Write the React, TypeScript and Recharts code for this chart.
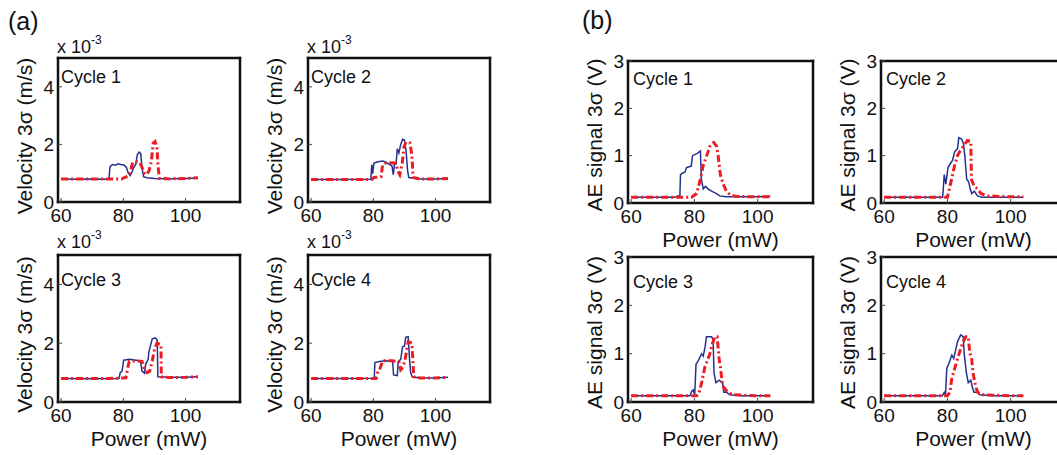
import React from "react"
import { LineChart, Line, XAxis, YAxis } from "recharts"

type Pt = [number, number]

const POWER_TICKS = [60, 80, 100]
const POWER_DOMAIN: [number, number] = [59, 117.5]
const VELOCITY_TICKS = [0, 2, 4]
const AE_TICKS = [0, 1, 2, 3]

// velocity 3σ (x 10^-3 m/s) vs power (mW): blue solid / red dash-dot
const velCycle1Blue: Pt[] = [[60, 0.8], [65, 0.79], [70, 0.8], [75, 0.79], [75.4, 0.8], [75.7, 1.22], [76.5, 1.3], [77.5, 1.28], [78.3, 1.33], [79.2, 1.3], [80.3, 1.28], [81, 1.2], [81.6, 1.0], [82.2, 0.92], [82.8, 1.05], [83.3, 1.2], [84, 1.3], [84.5, 1.65], [85.1, 1.73], [85.6, 1.68], [86, 1.2], [86.5, 0.88], [87.5, 0.84], [90, 0.82], [95, 0.81], [100, 0.82], [104, 0.83]]
const velCycle1Red: Pt[] = [[60, 0.8], [70, 0.8], [79.5, 0.8], [80.3, 0.85], [81.5, 0.9], [82.2, 1.0], [82.8, 1.3], [83.2, 1.38], [84.5, 1.4], [85.2, 1.38], [86, 1.2], [86.8, 1.0], [87.6, 0.95], [88.3, 1.1], [89, 1.4], [89.6, 2.05], [90.2, 2.1], [90.8, 1.9], [91.2, 1.2], [91.6, 0.82], [95, 0.8], [100, 0.82], [104, 0.84]]
const velCycle2Blue: Pt[] = [[60, 0.78], [70, 0.78], [79.2, 0.79], [79.5, 1.3], [79.8, 0.98], [80.2, 1.35], [81.5, 1.4], [83, 1.42], [84, 1.38], [85.3, 1.3], [86, 1.25], [86.4, 0.95], [86.8, 1.3], [87.3, 1.32], [87.7, 1.85], [88.2, 1.7], [88.8, 2.0], [89.4, 2.18], [90, 2.15], [90.5, 1.8], [91, 1.1], [91.4, 0.85], [95, 0.8], [100, 0.8], [104, 0.82]]
const velCycle2Red: Pt[] = [[60, 0.78], [79.5, 0.78], [80.2, 0.85], [82.5, 0.88], [83, 1.3], [84, 1.35], [86, 1.36], [87.2, 1.35], [87.8, 1.1], [88.5, 0.95], [89.3, 1.35], [89.8, 1.9], [90.5, 2.08], [91.8, 2.05], [92.4, 1.6], [92.8, 0.85], [95, 0.8], [100, 0.8], [104, 0.82]]
const velCycle3Blue: Pt[] = [[60, 0.8], [70, 0.79], [78.6, 0.8], [79, 1.0], [79.6, 1.05], [80.1, 1.42], [82, 1.45], [84, 1.42], [85.5, 1.4], [86, 1.05], [86.8, 0.98], [87.2, 1.3], [88, 1.45], [88.2, 1.7], [88.8, 1.95], [89.3, 2.15], [90.3, 2.18], [90.9, 2.1], [91.1, 0.86], [95, 0.84], [100, 0.84], [104, 0.86]]
const velCycle3Red: Pt[] = [[60, 0.8], [75, 0.8], [80.8, 0.82], [81.5, 1.2], [81.9, 1.38], [84, 1.4], [86, 1.38], [86.8, 1.1], [87.6, 1.0], [88.5, 1.05], [89.3, 1.4], [90, 1.8], [90.8, 2.0], [92.1, 1.95], [92.2, 0.86], [95, 0.83], [100, 0.84], [104, 0.86]]
const velCycle4Blue: Pt[] = [[60, 0.8], [70, 0.8], [80.3, 0.81], [80.5, 1.34], [82, 1.38], [84, 1.4], [86.2, 1.38], [86.5, 0.92], [87.7, 0.9], [88, 1.38], [88.8, 1.45], [89.4, 1.88], [90, 1.9], [90.4, 2.2], [91.2, 2.22], [91.6, 1.5], [92, 1.0], [92.5, 0.86], [95, 0.82], [100, 0.82], [104, 0.84]]
const velCycle4Red: Pt[] = [[60, 0.8], [80.9, 0.8], [81.5, 1.05], [82, 1.1], [83, 1.4], [86, 1.4], [88.2, 1.38], [88.8, 1.1], [89.6, 1.2], [90.3, 1.5], [91.2, 2.05], [92.4, 2.0], [93, 0.86], [95, 0.82], [100, 0.82], [104, 0.84]]

// AE signal 3σ (V) vs power (mW)
const aeCycle1Blue: Pt[] = [[60, 0.12], [70, 0.12], [73.8, 0.12], [74.9, 0.15], [75.4, 0.14], [75.6, 0.6], [76.2, 0.63], [77, 0.65], [77.5, 0.75], [79, 0.78], [79.4, 1.0], [80.9, 1.05], [81.9, 1.1], [82.2, 0.5], [82.8, 0.3], [83.5, 0.35], [84.3, 0.3], [85.4, 0.25], [87, 0.2], [88, 0.15], [90, 0.13], [95, 0.13], [100, 0.13], [104, 0.14]]
const aeCycle1Red: Pt[] = [[60, 0.12], [70, 0.12], [79.1, 0.12], [80.7, 0.2], [81.7, 0.45], [82.8, 0.8], [83.8, 0.98], [84.9, 1.2], [86.1, 1.28], [87, 1.2], [87.5, 1.0], [88.2, 0.6], [89.1, 0.4], [90.1, 0.25], [91.2, 0.18], [93, 0.14], [100, 0.13], [104, 0.13]]
const aeCycle2Blue: Pt[] = [[60, 0.12], [78.5, 0.12], [79, 0.6], [79.5, 0.4], [80.2, 0.75], [81.1, 0.85], [81.6, 0.9], [82.3, 1.08], [83.2, 1.15], [83.6, 1.38], [84.5, 1.35], [85.1, 1.25], [85.5, 1.0], [86.1, 0.5], [86.7, 0.45], [87.2, 0.3], [87.7, 0.2], [88.5, 0.25], [89.5, 0.15], [91.1, 0.12], [100, 0.12], [104, 0.12]]
const aeCycle2Red: Pt[] = [[60, 0.12], [80, 0.12], [81.3, 0.5], [82.3, 0.8], [83.2, 1.0], [84, 1.1], [85.1, 1.2], [86.3, 1.32], [87.4, 1.3], [87.6, 0.5], [88.5, 0.35], [89.5, 0.3], [90.6, 0.2], [92.7, 0.15], [100, 0.13], [104, 0.13]]
const aeCycle3Blue: Pt[] = [[60, 0.13], [78.6, 0.13], [79.1, 0.22], [79.6, 0.25], [80.1, 0.15], [80.5, 0.78], [81.2, 0.85], [82.3, 1.0], [82.8, 0.95], [83.4, 1.15], [83.8, 1.35], [85.4, 1.35], [85.9, 1.3], [86.2, 0.6], [86.8, 0.4], [87.8, 0.45], [88.9, 0.4], [89.3, 0.2], [90.2, 0.2], [91.2, 0.15], [95, 0.13], [104, 0.13]]
const aeCycle3Red: Pt[] = [[60, 0.13], [80.7, 0.13], [81.3, 0.15], [82.3, 0.4], [83.3, 0.72], [84.9, 1.0], [85.7, 1.2], [86.4, 1.35], [87.2, 1.35], [87.8, 0.9], [88.2, 0.73], [88.8, 0.4], [89.3, 0.3], [90.6, 0.2], [92.2, 0.15], [100, 0.13], [104, 0.13]]
const aeCycle4Blue: Pt[] = [[60, 0.13], [78.4, 0.13], [79, 0.2], [79.4, 0.15], [79.8, 0.7], [80.5, 0.8], [81.4, 0.97], [82, 0.9], [82.7, 1.1], [83.2, 1.25], [84.2, 1.39], [85, 1.35], [85.3, 1.0], [86, 0.6], [86.6, 0.4], [87.4, 0.45], [87.9, 0.3], [88.4, 0.2], [89.5, 0.2], [90.2, 0.15], [95, 0.13], [104, 0.13]]
const aeCycle4Red: Pt[] = [[60, 0.13], [80, 0.13], [80.8, 0.2], [81.4, 0.5], [82.1, 0.65], [83.7, 1.0], [84.7, 1.2], [85.8, 1.35], [86.6, 1.35], [87.1, 1.0], [87.6, 0.95], [88.1, 0.6], [89, 0.3], [89.6, 0.2], [91, 0.15], [100, 0.13], [104, 0.13]]

const FONT = '"Liberation Sans", Arial, Helvetica, sans-serif'
const BLUE = "#26318e"
const RED = "#ec1c24"
const INK = "#111"

// space around each plot frame, inside its own chart
const PAD_L = 60
const PAD_T = 60
const PAD_R = 10
const PAD_B = 55

const FRAME = { stroke: INK, strokeWidth: 2.5, strokeLinecap: "square" as const }
const TICK_LINE = { stroke: "#444", strokeWidth: 1 }
const TICK_FONT = { fontSize: 19, fill: INK, fontFamily: FONT }

interface PanelProps {
  x: number
  y: number
  w: number
  h: number
  blue: Pt[]
  red: Pt[]
  yMax: number
  yTicks: number[]
  yLabel: string
  cycle: string
  cycleDx: number
  cycleDy: number
  labelDy: number
  showPower: boolean
  expDy?: number
  tag?: string
  tagX?: number
  tagY?: number
}

const Panel = (p: PanelProps) => {
  const blue = p.blue.map(([x, y]) => ({ x, y }))
  const red = p.red.map(([x, y]) => ({ x, y }))
  const width = PAD_L + p.w + PAD_R
  const height = PAD_T + p.h + PAD_B
  const bottom = PAD_T + p.h
  const midX = PAD_L + p.w / 2
  const midY = PAD_T + p.h / 2 + p.labelDy
  const yLabX = PAD_L - 26

  const topDecor = () => (
    <g fontFamily={FONT} fill={INK}>
      <text x={PAD_L + p.cycleDx} y={PAD_T + p.cycleDy} fontSize={18}>{p.cycle}</text>
      {p.expDy !== undefined && (
        <text x={PAD_L - 1} y={PAD_T - p.expDy} fontSize={18}>
          x 10<tspan dy={-9} fontSize={12}>-3</tspan>
        </text>
      )}
      {p.tag && (
        <text x={p.tagX} y={p.tagY} fontSize={25}>{p.tag}</text>
      )}
    </g>
  )

  const xTitle = () =>
    p.showPower ? (
      <text x={midX} y={bottom + 44} textAnchor="middle" fontSize={21} fontFamily={FONT} fill={INK}>
        Power (mW)
      </text>
    ) : null

  const yTitle = () => (
    <text
      x={yLabX}
      y={midY}
      textAnchor="middle"
      fontSize={21}
      fontFamily={FONT}
      fill={INK}
      transform={`rotate(-90 ${yLabX} ${midY})`}
    >
      {p.yLabel}
    </text>
  )

  return (
    <div style={{ position: "absolute", left: p.x - PAD_L, top: p.y - PAD_T }}>
      <LineChart width={width} height={height} margin={{ top: PAD_T - 1, right: PAD_R - 1, bottom: 0, left: 0 }}>
        <XAxis
          xAxisId="b"
          type="number"
          dataKey="x"
          domain={POWER_DOMAIN}
          ticks={POWER_TICKS}
          allowDataOverflow
          height={PAD_B}
          tickSize={-4}
          tickMargin={11}
          axisLine={FRAME}
          tickLine={TICK_LINE}
          tick={TICK_FONT}
          label={xTitle}
        />
        <XAxis
          xAxisId="t"
          orientation="top"
          type="number"
          dataKey="x"
          domain={POWER_DOMAIN}
          ticks={POWER_TICKS}
          allowDataOverflow
          height={1}
          tickSize={-4}
          axisLine={FRAME}
          tickLine={TICK_LINE}
          tick={false}
          label={topDecor}
        />
        <YAxis
          yAxisId="l"
          type="number"
          domain={[0, p.yMax]}
          ticks={p.yTicks}
          allowDataOverflow
          width={PAD_L}
          tickSize={-4}
          tickMargin={8}
          axisLine={FRAME}
          tickLine={TICK_LINE}
          tick={TICK_FONT}
          label={yTitle}
        />
        <YAxis
          yAxisId="r"
          orientation="right"
          type="number"
          domain={[0, p.yMax]}
          ticks={p.yTicks}
          allowDataOverflow
          width={1}
          tickSize={-4}
          axisLine={FRAME}
          tickLine={TICK_LINE}
          tick={false}
        />
        <Line
          xAxisId="b"
          yAxisId="l"
          data={blue}
          dataKey="y"
          type="linear"
          stroke={BLUE}
          strokeWidth={1.5}
          dot={false}
          isAnimationActive={false}
        />
        <Line
          xAxisId="b"
          yAxisId="l"
          data={red}
          dataKey="y"
          type="linear"
          stroke={RED}
          strokeWidth={3}
          strokeDasharray="7 3 2 3"
          dot={false}
          isAnimationActive={false}
        />
      </LineChart>
    </div>
  )
}

const VEL_LABEL = "Velocity 3σ (m/s)"
const AE_LABEL = "AE signal 3σ (V)"

export default function App() {
  return (
    <div
      style={{
        position: "absolute",
        left: 0,
        top: 0,
        width: 1057,
        height: 455,
        overflow: "hidden",
        background: "#fff",
      }}
    >
      {/* (a) velocity */}
      <Panel x={58} y={58} w={182} h={144} blue={velCycle1Blue} red={velCycle1Red} yMax={5} yTicks={VELOCITY_TICKS} yLabel={VEL_LABEL} cycle="Cycle 1" cycleDx={3} cycleDy={25} labelDy={6} showPower={false} expDy={5} tag="(a)" tagX={10} tagY={32} />
      <Panel x={308} y={58} w={182} h={144} blue={velCycle2Blue} red={velCycle2Red} yMax={5} yTicks={VELOCITY_TICKS} yLabel={VEL_LABEL} cycle="Cycle 2" cycleDx={3} cycleDy={25} labelDy={6} showPower={false} expDy={5} />
      <Panel x={58} y={255} w={182} h={147} blue={velCycle3Blue} red={velCycle3Red} yMax={5} yTicks={VELOCITY_TICKS} yLabel={VEL_LABEL} cycle="Cycle 3" cycleDx={3} cycleDy={31} labelDy={6} showPower expDy={7} />
      <Panel x={308} y={255} w={182} h={147} blue={velCycle4Blue} red={velCycle4Red} yMax={5} yTicks={VELOCITY_TICKS} yLabel={VEL_LABEL} cycle="Cycle 4" cycleDx={3} cycleDy={31} labelDy={6} showPower expDy={7} />
      {/* (b) acoustic emission */}
      <Panel x={628} y={61} w={185} h={142} blue={aeCycle1Blue} red={aeCycle1Red} yMax={3} yTicks={AE_TICKS} yLabel={AE_LABEL} cycle="Cycle 1" cycleDx={5} cycleDy={24} labelDy={3} showPower tag="(b)" tagX={14} tagY={28} />
      <Panel x={881} y={61} w={185} h={142} blue={aeCycle2Blue} red={aeCycle2Red} yMax={3} yTicks={AE_TICKS} yLabel={AE_LABEL} cycle="Cycle 2" cycleDx={5} cycleDy={24} labelDy={3} showPower />
      <Panel x={628} y={257} w={185} h={145} blue={aeCycle3Blue} red={aeCycle3Red} yMax={3} yTicks={AE_TICKS} yLabel={AE_LABEL} cycle="Cycle 3" cycleDx={5} cycleDy={31} labelDy={3} showPower />
      <Panel x={881} y={257} w={185} h={145} blue={aeCycle4Blue} red={aeCycle4Red} yMax={3} yTicks={AE_TICKS} yLabel={AE_LABEL} cycle="Cycle 4" cycleDx={5} cycleDy={31} labelDy={3} showPower />
    </div>
  )
}
